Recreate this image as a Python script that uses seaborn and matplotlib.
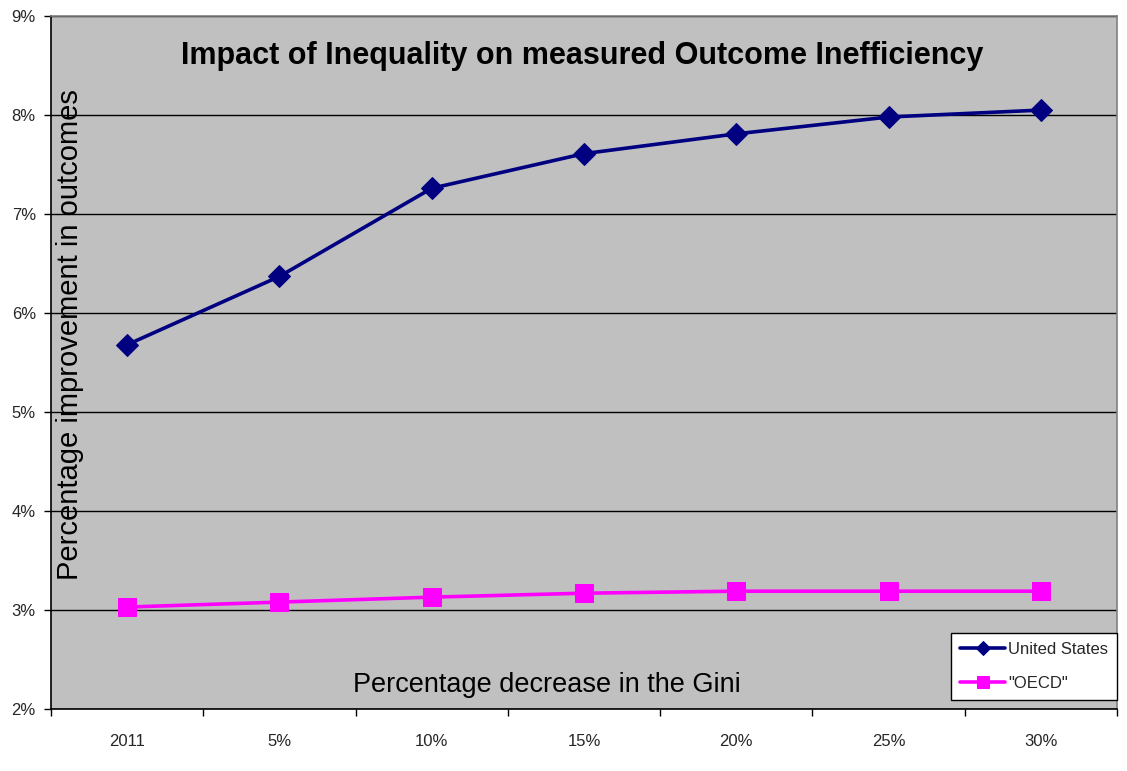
import pandas as pd
import matplotlib
matplotlib.use("Agg")
import matplotlib.pyplot as plt
import seaborn as sns
from matplotlib.ticker import FuncFormatter, FixedLocator

# Datos
categorias = ['2011', '5%', '10%', '15%', '20%', '25%', '30%']
us_vals = [5.68, 6.37, 7.26, 7.61, 7.81, 7.98, 8.05]
oecd_vals = [3.03, 3.08, 3.13, 3.17, 3.19, 3.19, 3.19]

df = pd.DataFrame({
    'gini': categorias * 2,
    'valor': us_vals + oecd_vals,
    'serie': ['United States'] * 7 + ['"OECD"'] * 7,
})

sns.set_theme(style="white")
plt.rcParams['font.family'] = ['Liberation Sans', 'DejaVu Sans']

fig = plt.figure(figsize=(11.27, 7.71), dpi=100)
ax = fig.add_axes([0.0453, 0.0804, 0.9458, 0.8988])
ax.set_facecolor('#C0C0C0')

sns.lineplot(data=df[df['serie'] == 'United States'], x='gini', y='valor',
             color='#000080', marker='D', markersize=11, linewidth=2.6,
             markeredgecolor='#000080', label='United States', ax=ax, sort=False)
sns.lineplot(data=df[df['serie'] == '"OECD"'], x='gini', y='valor',
             color='#FF00FF', marker='s', markersize=13.5, linewidth=2.6,
             markeredgecolor='#FF00FF', label='"OECD"', ax=ax, sort=False)

ax.set_xlim(-0.5, len(categorias) - 0.5)
ax.set_ylim(2, 9)
ax.set_yticks(range(2, 10))
ax.yaxis.set_major_formatter(FuncFormatter(lambda v, p: f'{int(v)}%'))
ax.grid(axis='y', color='black', linewidth=1)
ax.set_axisbelow(True)

# marcas del eje x entre categorias, etiquetas centradas
ax.xaxis.set_major_locator(FixedLocator([i - 0.5 for i in range(len(categorias) + 1)]))
ax.xaxis.set_major_formatter(FuncFormatter(lambda v, p: ''))
ax.xaxis.set_minor_locator(FixedLocator(list(range(len(categorias)))))
ax.set_xticklabels(categorias, minor=True)
ax.tick_params(axis='x', which='major', direction='out', length=5, width=1, color='black', bottom=True)
ax.tick_params(axis='x', which='minor', length=0, labelsize=12, pad=18)
ax.tick_params(axis='y', direction='out', length=5, width=1, color='black', left=True, labelsize=12, pad=6)

for s in ['left', 'bottom']:
    ax.spines[s].set_color('black')
    ax.spines[s].set_linewidth(1.2)
for s in ['top', 'right']:
    ax.spines[s].set_color('#808080')
    ax.spines[s].set_linewidth(1.2)

ax.set_xlabel('')
ax.set_ylabel('')
ax.text(0.498, 0.942, 'Impact of Inequality on measured Outcome Inefficiency',
        transform=ax.transAxes, ha='center', va='center', fontsize=22,
        fontweight='bold', color='black')
ax.text(0.465, 0.034, 'Percentage decrease in the Gini', transform=ax.transAxes,
        ha='center', va='center', fontsize=19.5, color='black')
ax.text(0.0178, 0.54, 'Percentage improvement in outcomes', transform=ax.transAxes,
        ha='center', va='center', rotation=90, fontsize=21, color='black')

leg = ax.legend(loc='lower right', bbox_to_anchor=(1.0, 0.013), borderaxespad=0,
                fontsize=12, frameon=True, fancybox=False, framealpha=1,
                edgecolor='black', handlelength=2.7, handletextpad=0.15,
                borderpad=0.55, labelspacing=1.15)
leg.get_frame().set_facecolor('white')
leg.get_frame().set_linewidth(1)
for h, ms in zip(leg.legend_handles, [7, 9]):
    h.set_markersize(ms)

fig.savefig('out.png', dpi=100)
